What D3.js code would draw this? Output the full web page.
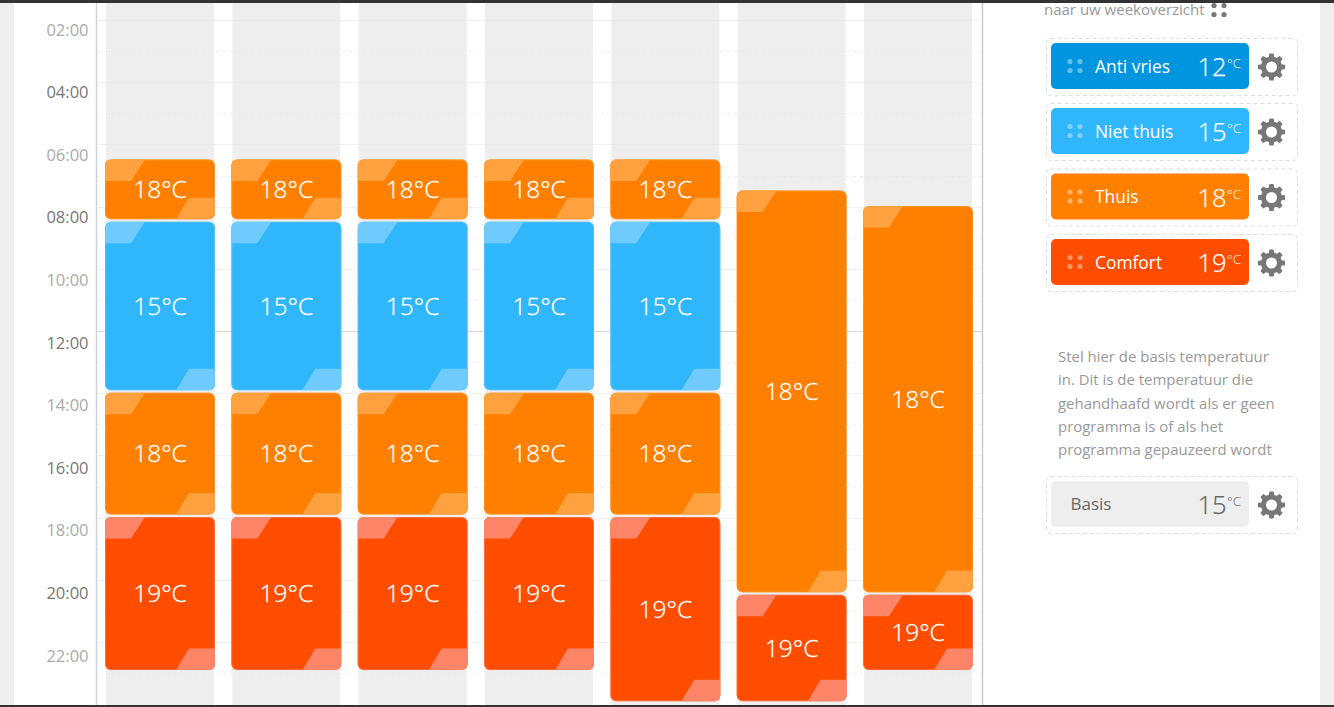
<!DOCTYPE html>
<html><head><meta charset="utf-8">
<script src="https://cdnjs.cloudflare.com/ajax/libs/d3/7.8.5/d3.min.js"></script>
<style>html,body{margin:0;padding:0;background:#fff;overflow:hidden}svg{display:block;font-family:"Open Sans",sans-serif}</style>
</head><body><svg id="c" width="1334" height="707"></svg>
<script>
const days = ["ma","di","wo","do","vr","za","zo"];
const hourTicks = [2,4,6,8,10,12,14,16,18,20,22];
const tickLabels = ["02:00","04:00","06:00","08:00","10:00","12:00","14:00","16:00","18:00","20:00","22:00"];
const weekdaySegments = [[6.5,8.5,18],[8.5,14,15],[14,18,18],[18,23,19]];
const fridaySegments = [[6.5,8.5,18],[8.5,14,15],[14,18,18],[18,24,19]];
const saturdaySegments = [[7.5,20.5,18],[20.5,24,19]];
const sundaySegments = [[8,20.5,18],[20.5,23,19]];
const schedule = [weekdaySegments,weekdaySegments,weekdaySegments,weekdaySegments,fridaySegments,saturdaySegments,sundaySegments];
const presetNames = ["Anti vries","Niet thuis","Thuis","Comfort"];
const presetTemps = [12,15,18,19];
const baseName = "Basis", baseTemp = 15;
const introLine = "naar uw weekoverzicht";
const helpLines = ["Stel hier de basis temperatuur","in. Dit is de temperatuur die","gehandhaafd wordt als er geen","programma is of als het","programma gepauzeerd wordt"];

const colour = {12:"#0095DE",15:"#30B6FB",18:"#FF8000",19:"#FF4D00"};
const tint = {12:"#4CB5E8",15:"#6FCBFC",18:"#FFA13F",19:"#FF8568"};

const svg = d3.select("#c");
const y = d3.scaleLinear().domain([2,24]).range([20,704.2]);
const x = d3.scaleBand().domain(days).range([105,973]).paddingInner(0.1293).paddingOuter(0).align(0);
const W = x.bandwidth();

svg.append("rect").attr("width",1334).attr("height",707).attr("fill","#fff");
svg.append("rect").attr("width",14).attr("height",707).attr("fill","#efefef");
svg.append("rect").attr("x",1320).attr("width",14).attr("height",707).attr("fill","#efefef");

svg.selectAll(".col").data(days).join("rect").attr("class","col")
  .attr("x",d=>x(d)+1).attr("y",0).attr("width",W-2).attr("height",707).attr("fill","#eeeeee");

const gridHours = d3.range(2,24);
svg.selectAll(".grid").data(gridHours).join("line").attr("class","grid")
  .attr("x1",97).attr("x2",982).attr("y1",d=>Math.round(y(d))+.5).attr("y2",d=>Math.round(y(d))+.5)
  .attr("stroke",d=>d===12?"#d8d8d8":"#e6e6e6").attr("stroke-opacity",d=>d===12?1:.6)
  .attr("stroke-dasharray",d=>d%2?"3 4":null);

svg.append("line").attr("x1",96.5).attr("x2",96.5).attr("y1",0).attr("y2",707).attr("stroke","#cfd3d8").attr("stroke-width",1.5);
svg.append("line").attr("x1",982.5).attr("x2",982.5).attr("y1",0).attr("y2",707).attr("stroke","#cccccc").attr("stroke-width",1.5);

svg.selectAll(".hr").data(hourTicks).join("text").attr("class","hr")
  .attr("x",88.5).attr("y",(d,i)=>29.6+i*62.6).attr("dy","0.36em").attr("text-anchor","end")
  .attr("font-size",16.5).attr("fill",(d,i)=>i%2?"#777":"#aaa")
  .text((d,i)=>tickLabels[i]);

function roundedTag(g,x0,y0,w,h,temp){
  const r=6;
  const id="clip"+(roundedTag.n=(roundedTag.n||0)+1);
  g.append("clipPath").attr("id",id).append("rect").attr("x",x0).attr("y",y0).attr("width",w).attr("height",h).attr("rx",r);
  g.append("rect").attr("x",x0).attr("y",y0).attr("width",w).attr("height",h).attr("rx",r).attr("fill",colour[temp]);
  const c=g.append("g").attr("clip-path",`url(#${id})`);
  const th=Math.min(21.5,h);
  c.append("path").attr("fill",tint[temp]).attr("d",`M${x0} ${y0}H${x0+40}L${x0+26} ${y0+th}H${x0}Z`);
  c.append("path").attr("fill",tint[temp]).attr("d",`M${x0+w} ${y0+h}H${x0+w-39}L${x0+w-26} ${y0+h-th}H${x0+w}Z`);
  g.append("rect").attr("x",x0+.5).attr("y",y0+.5).attr("width",w-1).attr("height",h-1).attr("rx",r-.5)
    .attr("fill","none").attr("stroke",tint[temp]).attr("stroke-opacity",.55);
}
schedule.forEach((segs,i)=>{
  const d=days[i];
  segs.forEach(([a,b,t])=>{
    const g=svg.append("g");
    const y0=y(a)-.5, y1=y(b)-3;
    roundedTag(g,x(d),y0,W,y1-y0,t);
    g.append("text").attr("x",x(d)+55).attr("y",(y0+y1)/2).attr("dy","0.36em").attr("text-anchor","middle")
      .attr("font-size",24.5).attr("font-weight",300).attr("fill","#fff").attr("stroke","#fff").attr("stroke-width",.3).text(t+"°C");
  });
});

function gear(cx,cy){
  const teeth=8, R=13, r=10, pts=[];
  for(let k=0;k<teeth;k++){
    const a=k*2*Math.PI/teeth, s=2*Math.PI/teeth;
    [[-.27,r],[-.16,R],[.16,R],[.27,r]].forEach(([f,q])=>{
      const t=a+f*s; pts.push([cx+q*Math.sin(t),cy-q*Math.cos(t)]);
    });
  }
  svg.append("path").attr("d",d3.line().curve(d3.curveLinearClosed)(pts)).attr("fill","#777").attr("stroke","#777").attr("stroke-width",1.2).attr("stroke-linejoin","round");
  svg.append("circle").attr("cx",cx).attr("cy",cy).attr("r",5.5).attr("fill","#fff");
}
function dots(cx,cy,fill,op){
  [[-1,-1],[1,-1],[-1,1],[1,1]].forEach(([a,b])=>svg.append("circle").attr("cx",cx+a*5).attr("cy",cy+b*4.5).attr("r",2.6).attr("fill",fill).attr("fill-opacity",op));
}
function row(top,name,temp,fill,fg,withDots){
  svg.append("rect").attr("x",1046.5).attr("y",top-4.5).attr("width",251).attr("height",57).attr("rx",4)
    .attr("fill","none").attr("stroke","#dedede").attr("stroke-dasharray","4 3");
  svg.append("rect").attr("x",1051).attr("y",top).attr("width",198).attr("height",46).attr("rx",5).attr("fill",fill);
  if(withDots) dots(1075,top+23,"#fff",.4);
  svg.append("text").attr("x",withDots?1095:1070.5).attr("y",withDots?top+23.7:top+22.8).attr("dy","0.36em").attr("font-size",withDots?17.4:17).attr("fill",fg).text(name);
  svg.append("text").attr("x",1226.5).attr("y",top+24).attr("dy","0.36em").attr("text-anchor","end").attr("font-size",25.5).attr("font-weight",300).attr("fill",fg).attr("stroke",fg).attr("stroke-width",.25).text(temp);
  svg.append("text").attr("x",1227).attr("y",top+25).attr("font-size",13.5).attr("font-weight",300).attr("fill",fg).text("°C");
  gear(1271.5,top+24);
}
svg.append("text").attr("x",1044).attr("y",10).attr("dy","0.36em").attr("font-size",15).attr("fill","#999").text(introLine);
dots(1219,10,"#777",1);
[43,108,173.5,239].forEach((t,i)=>row(t,presetNames[i],presetTemps[i],colour[presetTemps[i]],"#fff",true));
svg.selectAll(".help").data(helpLines).join("text").attr("class","help")
  .attr("x",1058).attr("y",(d,i)=>356.8+i*23.25).attr("dy","0.36em").attr("font-size",14.95).attr("fill","#999").text(d=>d);
row(481,baseName,baseTemp,"#eeeeee","#666",false);

svg.append("rect").attr("width",1334).attr("height",3).attr("fill","#333");
svg.append("rect").attr("y",705).attr("width",1334).attr("height",2).attr("fill","#333");
</script></body></html>
